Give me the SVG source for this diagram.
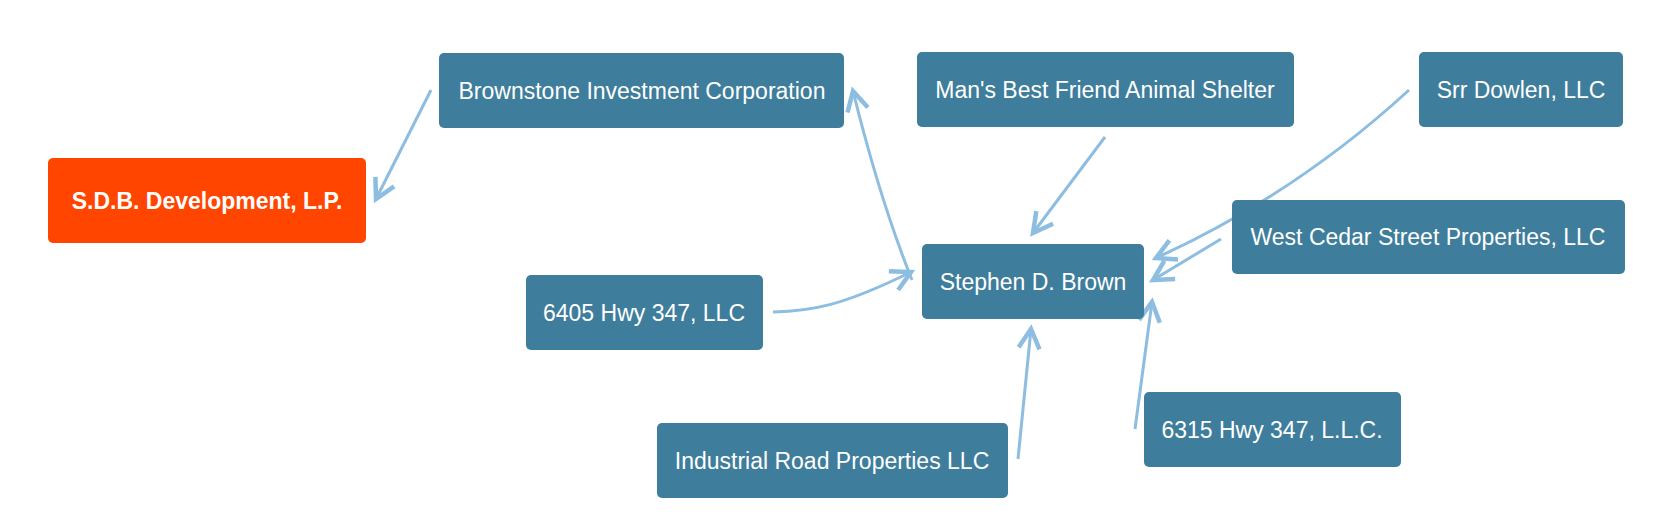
<svg xmlns="http://www.w3.org/2000/svg" width="1679" height="532" viewBox="0 0 1679 532">
<defs>
<style>
.node rect{fill:#3e7d9b;}
.root rect{fill:#ff4500;}
.node text{fill:#ffffff;font-family:"Liberation Sans",Arial,sans-serif;font-size:23px;text-anchor:middle;}
.root text{font-weight:bold;}
.edge{fill:none;stroke:#8dbde0;stroke-width:3;marker-end:url(#arr);}
</style>
<marker id="arr" markerUnits="userSpaceOnUse" markerWidth="30" markerHeight="30" viewBox="-16 -10 20 20" refX="0" refY="0" orient="auto">
<path d="M-13,-7 L0,0 L-13,7" fill="none" stroke="#8dbde0" stroke-width="3"/>
</marker>
</defs>
<rect width="1679" height="532" fill="#ffffff"/>
<g id="connectors">
<path class="edge" d="M431,90 L376,199"/>
<path class="edge" d="M912,280 Q880,200 853,91"/>
<path class="edge" d="M773,312 C812,311 842,306 911,272"/>
<path class="edge" d="M1105,137 L1033,233"/>
<path class="edge" d="M1409,90 Q1296,194 1156,258"/>
<path class="edge" d="M1221,239 L1153,280"/>
<path class="edge" d="M1018,459 L1031,329"/>
<path class="edge" d="M1135,429 L1152,302"/>
</g>
<g id="sdb" class="node root"><rect x="48" y="158" width="318" height="85" rx="5"/><text x="207" y="208.5">S.D.B. Development, L.P.</text></g>
<g id="brownstone" class="node"><rect x="439" y="53" width="405" height="75" rx="5"/><text x="642" y="98.5">Brownstone Investment Corporation</text></g>
<g id="mansbestfriend" class="node"><rect x="917" y="52" width="377" height="75" rx="5"/><text x="1105" y="97.5">Man's Best Friend Animal Shelter</text></g>
<g id="srrdowlen" class="node"><rect x="1419" y="52" width="204" height="75" rx="5"/><text x="1521" y="97.5">Srr Dowlen, LLC</text></g>
<g id="westcedar" class="node"><rect x="1232" y="200" width="393" height="74" rx="5"/><text x="1428" y="245">West Cedar Street Properties, LLC</text></g>
<g id="stephen" class="node"><rect x="922" y="244" width="222" height="75" rx="5"/><text x="1033" y="289.5">Stephen D. Brown</text></g>
<g id="hwy6405" class="node"><rect x="526" y="275" width="237" height="75" rx="5"/><text x="644" y="320.5">6405 Hwy 347, LLC</text></g>
<g id="industrial" class="node"><rect x="657" y="423" width="351" height="75" rx="5"/><text x="832" y="468.5">Industrial Road Properties LLC</text></g>
<g id="hwy6315" class="node"><rect x="1144" y="392" width="257" height="75" rx="5"/><text x="1272" y="437.5">6315 Hwy 347, L.L.C.</text></g>
</svg>
